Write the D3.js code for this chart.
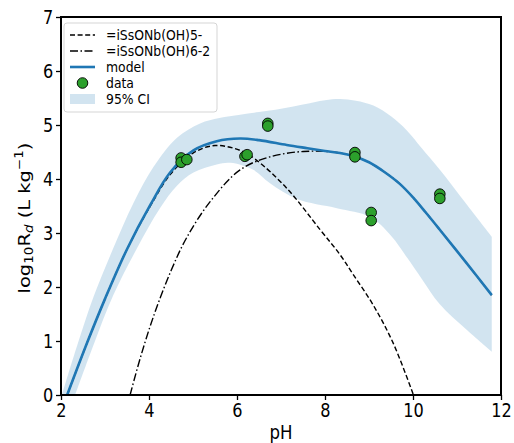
<!DOCTYPE html>
<html><head><meta charset="utf-8">
<script src="https://cdn.jsdelivr.net/npm/d3@7"></script>
<style>body{margin:0;background:#fff}svg{display:block}text{font-family:"DejaVu Sans",sans-serif}</style>
</head><body>
<svg id="c" width="514" height="443"></svg>
<script>
// ---- data ----
const xTicks = [2, 4, 6, 8, 10, 12];
const yTicks = [0, 1, 2, 3, 4, 5, 6, 7];

const modelPH  = [2.14, 2.6, 3.0, 3.5, 4.03, 4.48, 5.01, 5.54, 6.07, 6.5, 7.13, 7.6, 8.0, 8.34, 8.65, 9.0, 9.35, 9.7, 10.0, 10.3, 10.6, 11.2, 11.79];
const modelVal = [0.0, 0.98, 1.78, 2.7, 3.52, 4.12, 4.53, 4.70, 4.75, 4.72, 4.63, 4.57, 4.52, 4.48, 4.42, 4.31, 4.13, 3.91, 3.66, 3.37, 3.07, 2.46, 1.85];

const upperPH  = [2.02, 2.4, 2.74, 3.19, 3.65, 4.1, 4.63, 5.16, 5.6, 6.07, 6.5, 7.0, 7.5, 8.0, 8.34, 8.7, 9.1, 9.5, 9.86, 10.2, 10.61, 11.2, 11.79];
const upperVal = [0.0, 1.0, 1.82, 2.72, 3.56, 4.22, 4.76, 5.03, 5.13, 5.19, 5.24, 5.3, 5.38, 5.46, 5.48, 5.45, 5.36, 5.16, 4.9, 4.57, 4.17, 3.55, 2.93];

const lowerPH  = [2.32, 2.75, 3.19, 3.73, 4.26, 4.63, 5.01, 5.54, 5.85, 6.37, 6.75, 7.36, 8.27, 9.02, 9.5, 9.86, 10.2, 10.61, 11.2, 11.79];
const lowerVal = [0.0, 0.95, 1.85, 2.72, 3.47, 3.87, 4.12, 4.27, 4.30, 4.17, 3.92, 3.63, 3.46, 3.30, 2.95, 2.55, 2.15, 1.68, 1.22, 0.80];

const sp5PH  = [2.14, 2.6, 3.0, 3.5, 4.03, 4.48, 5.0, 5.5, 6.07, 6.41, 7.13, 7.89, 8.34, 8.65, 9.1, 9.55, 10.01];
const sp5Val = [0.0, 0.98, 1.78, 2.7, 3.5, 4.08, 4.48, 4.62, 4.53, 4.37, 3.83, 3.06, 2.6, 2.22, 1.66, 0.96, 0.0];

const sp6PH  = [3.57, 3.8, 4.1, 4.5, 4.86, 5.39, 6.07, 6.75, 7.51, 8.27, 8.65, 9.0, 9.35, 9.7, 10.0, 10.3, 10.6, 11.2, 11.79];
const sp6Val = [0.0, 0.68, 1.45, 2.3, 2.92, 3.58, 4.17, 4.41, 4.51, 4.49, 4.42, 4.31, 4.13, 3.91, 3.66, 3.37, 3.07, 2.46, 1.85];

const dataPH  = [4.73, 4.73, 4.86, 6.18, 6.23, 6.70, 6.70, 8.68, 8.68, 9.05, 9.05, 10.61, 10.61];
const dataVal = [4.39, 4.31, 4.36, 4.42, 4.45, 5.03, 4.98, 4.49, 4.41, 3.38, 3.23, 3.72, 3.64];

const legendLabels = ["=iSsONb(OH)5-", "=iSsONb(OH)6-2", "model", "data", "95% CI"];

// ---- drawing ----
const svg = d3.select("#c");
const L = 61, R = 501, T = 17, B = 395;
const SX = 0.85; // horizontal squeeze of the reference text
const x = d3.scaleLinear().domain([2, 12]).range([L, R]);
const y = d3.scaleLinear().domain([0, 7]).range([B, T]);

svg.append("clipPath").attr("id", "clip").append("rect")
  .attr("x", L).attr("y", T).attr("width", R - L).attr("height", B - T);
const g = svg.append("g").attr("clip-path", "url(#clip)");

const zip = (a, b) => a.map((v, i) => [v, b[i]]);
const curve = d3.curveCatmullRom.alpha(0.5);
const line = d3.line().x(d => x(d[0])).y(d => y(d[1])).curve(curve);

const up = zip(upperPH, upperVal), lo = zip(lowerPH, lowerVal);
const upPath = line(up);
const loPath = line(lo.slice().reverse());
g.append("path").attr("d", upPath + "L" + loPath.slice(1) + "Z")
  .attr("fill", "#1f77b4").attr("fill-opacity", 0.2).attr("stroke", "none");

g.append("path").attr("d", line(zip(sp5PH, sp5Val)))
  .attr("fill", "none").attr("stroke", "#000").attr("stroke-width", 1.4)
  .attr("stroke-dasharray", "5,2.6");
g.append("path").attr("d", line(zip(sp6PH, sp6Val)))
  .attr("fill", "none").attr("stroke", "#000").attr("stroke-width", 1.4)
  .attr("stroke-dasharray", "8,2.5,1.5,2.5");
g.append("path").attr("d", line(zip(modelPH, modelVal)))
  .attr("fill", "none").attr("stroke", "#1f77b4").attr("stroke-width", 2.6);

svg.append("g").selectAll("circle").data(zip(dataPH, dataVal)).join("circle")
  .attr("cx", d => x(d[0])).attr("cy", d => y(d[1])).attr("r", 5.3)
  .attr("fill", "#2ca02c").attr("stroke", "#000").attr("stroke-width", 0.9);

// axes
const xa = svg.append("g").attr("transform", `translate(0,${B})`)
  .call(d3.axisBottom(x).tickValues(xTicks).tickFormat(d3.format("d")).tickSize(5));
const ya = svg.append("g").attr("transform", `translate(${L},0)`)
  .call(d3.axisLeft(y).tickValues(yTicks).tickFormat(d3.format("d")).tickSize(5));
[xa, ya].forEach(a => {
  a.select(".domain").remove();
  a.selectAll("line").attr("stroke", "#000").attr("stroke-width", 1.3);
  a.selectAll("text").attr("font-size", 19).attr("fill", "#000")
   .style("font-family", "'DejaVu Sans',sans-serif");
});
xa.selectAll("text").attr("y", 8).attr("dy", "0.73em").attr("transform", `scale(${SX},1)`);
ya.selectAll("text").attr("x", -9).attr("dy", "0.36em").attr("transform", `scale(${SX},1)`);

svg.append("rect").attr("x", L).attr("y", T).attr("width", R - L).attr("height", B - T)
  .attr("fill", "none").attr("stroke", "#000").attr("stroke-width", 2);

// axis labels
svg.append("text").attr("transform", `translate(${(L + R) / 2},439) scale(${SX},1)`)
  .attr("text-anchor", "middle").attr("font-size", 19.5).text("pH");

const yl = svg.append("text").attr("transform", `translate(30,218) scale(${SX},1) rotate(-90)`)
  .attr("text-anchor", "middle").attr("font-size", 19.5);
yl.append("tspan").text("log");
yl.append("tspan").attr("font-size", 13.5).attr("dy", 4).text("10");
yl.append("tspan").attr("dy", -4).text("R");
yl.append("tspan").attr("font-size", 13.5).attr("font-style", "italic").attr("dy", 4).text("d");
yl.append("tspan").attr("dy", -4).text(" (L kg");
yl.append("tspan").attr("font-size", 13.5).attr("dy", -8).text("−1");
yl.append("tspan").attr("dy", 8).text(")");

// legend
const lg = svg.append("g");
lg.append("rect").attr("x", 64).attr("y", 23).attr("width", 153).attr("height", 89)
  .attr("rx", 3).attr("fill", "#fff").attr("fill-opacity", 0.8)
  .attr("stroke", "#d5d5d5").attr("stroke-width", 1);
const rows = [35, 51, 67, 83, 99];
const hx0 = 70, hx1 = 95, tx = 106;
lg.append("line").attr("x1", hx0).attr("x2", hx1).attr("y1", rows[0]).attr("y2", rows[0])
  .attr("stroke", "#000").attr("stroke-width", 1.4).attr("stroke-dasharray", "5,2.6");
lg.append("line").attr("x1", hx0).attr("x2", hx1).attr("y1", rows[1]).attr("y2", rows[1])
  .attr("stroke", "#000").attr("stroke-width", 1.4).attr("stroke-dasharray", "8,2.5,1.5,2.5");
lg.append("line").attr("x1", hx0).attr("x2", hx1).attr("y1", rows[2]).attr("y2", rows[2])
  .attr("stroke", "#1f77b4").attr("stroke-width", 2.6);
lg.append("circle").attr("cx", (hx0 + hx1) / 2).attr("cy", rows[3]).attr("r", 5.3)
  .attr("fill", "#2ca02c").attr("stroke", "#000").attr("stroke-width", 0.9);
lg.append("rect").attr("x", hx0).attr("y", rows[4] - 5).attr("width", hx1 - hx0).attr("height", 10)
  .attr("fill", "#1f77b4").attr("fill-opacity", 0.2);
lg.selectAll("text.l").data(legendLabels).join("text").attr("class", "l")
  .attr("transform", (d, i) => `translate(${tx},${rows[i]}) scale(0.92,1)`)
  .attr("dy", "0.35em").attr("font-size", 13.5).text(d => d);
</script>
</body></html>
